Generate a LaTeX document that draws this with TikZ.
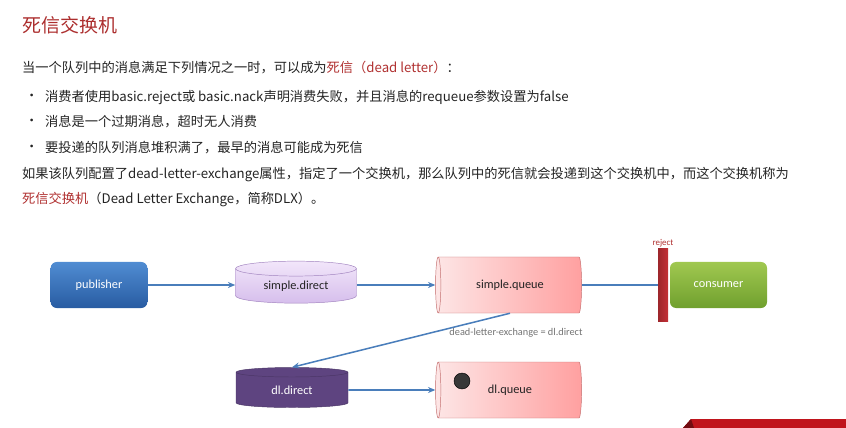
\documentclass[tikz,border=0pt]{standalone}
\usepackage{fontspec}
\setmainfont{Noto Sans CJK SC}
\newfontfamily\lblfont{Carlito}
\usepackage{xcolor}
\usetikzlibrary{positioning,arrows.meta,shapes.geometric}

\definecolor{titlered}{RGB}{172,46,46}
\definecolor{deadred}{RGB}{176,48,48}
\definecolor{bodytext}{RGB}{35,35,35}
\definecolor{flowblue}{RGB}{74,126,187}
\definecolor{pubtop}{RGB}{80,140,210}
\definecolor{pubbot}{RGB}{40,92,162}
\definecolor{contop}{RGB}{160,200,80}
\definecolor{conbot}{RGB}{112,160,46}
\definecolor{exlight}{RGB}{242,230,250}
\definecolor{exdark}{RGB}{214,190,236}
\definecolor{exborder}{RGB}{160,130,190}
\definecolor{dlxfill}{RGB}{94,68,128}
\definecolor{qlight}{RGB}{253,230,230}
\definecolor{qdark}{RGB}{255,160,160}
\definecolor{qborder}{RGB}{196,110,110}
\definecolor{rejectred}{RGB}{196,48,54}
\definecolor{bannerred}{RGB}{192,20,28}

\begin{document}
\begin{tikzpicture}[
  x=0.03cm, y=-0.03cm,
  txt/.style={anchor=west, inner sep=0pt, font=\fontsize{11.3}{13}\selectfont, text=bodytext},
  box/.style={rounded corners=0.18cm, minimum width=2.9cm, minimum height=1.38cm, inner sep=0pt,
    font=\lblfont\fontsize{10.5}{12}\selectfont, text=white},
  exch/.style={cylinder, shape border rotate=90, aspect=0.23, inner sep=0pt,
    font=\lblfont\fontsize{10.5}{12}\selectfont},
  queue/.style={cylinder, shape border rotate=180, aspect=0.5, inner sep=0pt,
    minimum width=1.68cm, minimum height=4.38cm, draw=qborder, left color=qlight, right color=qdark,
    font=\lblfont\fontsize{10.5}{12}\selectfont, text=bodytext},
  flow/.style={draw=flowblue, line width=1.3pt, -{Stealth[length=2.2mm, width=1.8mm]}}
]
\useasboundingbox (0,0) rectangle (846,428);

% heading and text
\node[anchor=west, inner sep=0pt, font=\fontsize{16.2}{19}\selectfont, text=titlered] (title) at (22,25) {死信交换机};
\node[txt] (intro) at (22,68) {当一个队列中的消息满足下列情况之一时，可以成为\textcolor{deadred}{死信（dead letter）}：};
\node[txt] (dot1) at (25,97) {•};
\node[txt] (item1) at (45,97) {消费者使用basic.reject或 basic.nack声明消费失败，并且消息的requeue参数设置为false};
\node[txt] (dot2) at (25,122) {•};
\node[txt] (item2) at (45,122) {消息是一个过期消息，超时无人消费};
\node[txt] (dot3) at (25,148) {•};
\node[txt] (item3) at (45,148) {要投递的队列消息堆积满了，最早的消息可能成为死信};
\node[txt] (dlxtext) at (22,175) {如果该队列配置了dead-letter-exchange属性，指定了一个交换机，那么队列中的死信就会投递到这个交换机中，而这个交换机称为};
\node[txt] (dlxname) at (22,199) {\textcolor{deadred}{死信交换机}（Dead Letter Exchange，简称DLX）。};

% diagram
\node[box, top color=pubtop, bottom color=pubbot] (publisher) at (99,285) {publisher};
\node[exch, minimum width=3.63cm, minimum height=1.26cm, draw=exborder, top color=exlight, bottom color=exdark,
  text=bodytext] (simpledirect) at (296,286) {simple.direct};
\node[queue] (simplequeue) at (510,285) {simple.queue};
\node[rectangle, minimum width=0.3cm, minimum height=2.16cm, inner sep=0pt, left color=rejectred!80!black,
  right color=rejectred] (rejectbar) at (663,285) {};
\node[above=1pt of rejectbar, inner sep=0pt, font=\lblfont\fontsize{7.6}{9}\selectfont, text=deadred] (rejectlbl) {reject};
\node[box, top color=contop, bottom color=conbot, minimum width=2.91cm] (consumer) at (718.5,285) {consumer};

\node[exch, minimum width=3.36cm, minimum height=1.2cm, draw=dlxfill!80!black, fill=dlxfill, text=white] (dldirect) at (292,390) {dl.direct};
\node[queue] (dlqueue) at (510,390) {dl.queue};
\node[circle, minimum size=0.48cm, inner sep=0pt, draw=black, fill=black!78] (msg) at (462,381) {};

\node[inner sep=0pt, font=\lblfont\fontsize{8.8}{10}\selectfont, text=black!55] (dlxlbl) at (516,333) {dead-letter-exchange = dl.direct};

\draw[flow] (publisher.east) -- (publisher.east -| simpledirect.west);
\draw[flow] (simpledirect.east |- simplequeue.west) -- (simplequeue.west);
\draw[draw=flowblue, line width=1.3pt] (simplequeue.east) -- (rejectbar.west);
\draw[flow] (simplequeue.south) -- (dldirect.north);
\draw[flow] (dldirect.east) -- (dlqueue.west);

% banner corner
\fill[bannerred] (683,428) -- (691,419) -- (846,419) -- (846,428) -- cycle;
\fill[bannerred!60!black] (683,428) -- (691,419) -- (694,428) -- cycle;
\end{tikzpicture}
\end{document}
